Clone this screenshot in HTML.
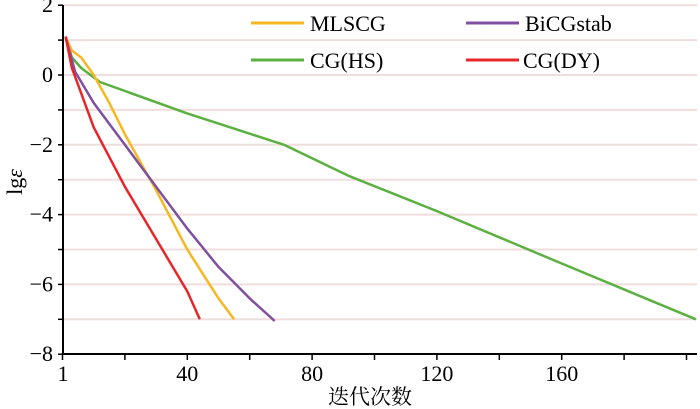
<!DOCTYPE html>
<html><head><meta charset="utf-8"><style>
body{margin:0;background:#fff}
svg{display:block;font-family:"Liberation Serif","Noto Serif CJK SC",serif}
</style></head><body>
<svg id="chart" width="700" height="409" viewBox="0 0 700 409" xmlns="http://www.w3.org/2000/svg">
<g id="grid"></g>
<g id="series"></g>
<g id="axes"></g>
<text transform="translate(22,182) rotate(-90)" text-anchor="middle" font-size="22">lg<tspan font-style="italic">ε</tspan></text>
<text x="370" y="404" text-anchor="middle" font-size="21">迭代次数</text>
<g font-size="22">
<line x1="251" y1="23" x2="304" y2="23" stroke="#f6b822" stroke-width="3"/>
<text x="310" y="31">MLSCG</text>
<line x1="466" y1="23" x2="519" y2="23" stroke="#8050a0" stroke-width="3"/>
<text x="525" y="31">BiCGstab</text>
<line x1="251" y1="60" x2="304" y2="60" stroke="#5ab040" stroke-width="3"/>
<text x="310" y="68">CG(HS)</text>
<line x1="466" y1="60" x2="519" y2="60" stroke="#e8262a" stroke-width="3"/>
<text x="523" y="68">CG(DY)</text>
</g>
</svg>
<script>
const mlscgX=[1,3,6,10,15,20,25,30,40,50,55];
const mlscgY=[1.1,0.7,0.5,0,-0.8,-1.7,-2.5,-3.3,-5,-6.4,-7];
const bicgX=[1,4,10,20,30,40,50,60,68];
const bicgY=[1.1,0.1,-0.8,-2,-3.2,-4.4,-5.5,-6.4,-7.05];
const cghsX=[1,3,6,12,40,71,92,120,160,203];
const cghsY=[1.1,0.5,0.2,-0.2,-1.1,-2,-2.9,-3.9,-5.4,-7];
const cgdyX=[1,3,10,20,30,40,44];
const cgdyY=[1.1,0.2,-1.5,-3.2,-4.7,-6.2,-7];
const yTicks=[2,0,-2,-4,-6,-8];
const yTickLabels=["2","0","\u22122","\u22124","\u22126","\u22128"];
const xTicks=[1,40,80,120,160];
const xTickLabels=["1","40","80","120","160"];
const NS="http://www.w3.org/2000/svg";
const X=v=>62.5+3.12*v;
const Y=v=>75-34.9*v;
function mk(tag,attrs,parent){const e=document.createElementNS(NS,tag);for(const k in attrs)e.setAttribute(k,attrs[k]);parent.appendChild(e);return e;}
const grid=document.getElementById('grid'),axes=document.getElementById('axes'),ser=document.getElementById('series');
for(let v=2;v>-8;v--){const l=mk('line',{x1:63,x2:697,y1:Y(v),y2:Y(v),stroke:'#f0dede','stroke-width':2},grid);

}
for(let v=2;v>=-8;v--){const t=mk('line',{x1:58,x2:63,y1:Y(v),y2:Y(v),stroke:'#000','stroke-width':1.5},axes);

}
for(let v=0;v<=200;v+=20){const t=mk('line',{x1:X(v),x2:X(v),y1:354,y2:360,stroke:'#000','stroke-width':1.5},axes);

}
const ax=mk('path',{d:'M63 5 V354 H697',fill:'none',stroke:'#000','stroke-width':2},axes);


yTicks.forEach((v,i)=>{const t=mk('text',{x:53,y:Y(v)+7,'text-anchor':'end','font-size':22},axes);t.textContent=yTickLabels[i];

});
xTicks.forEach((v,i)=>{const t=mk('text',{x:v===1?63:X(v),y:381,'text-anchor':'middle','font-size':22},axes);t.textContent=xTickLabels[i];

});
function line(xs,ys,color,name){const d=xs.map((x,i)=>(i?'L':'M')+X(x).toFixed(1)+' '+Y(ys[i]).toFixed(1)).join(' ');
const p=mk('path',{d:d,fill:'none',stroke:color,'stroke-width':2.5,'stroke-linejoin':'round'},ser);

}
line(cghsX,cghsY,'#5ab040','series-cghs');
line(mlscgX,mlscgY,'#f6b822','series-mlscg');
line(bicgX,bicgY,'#8050a0','series-bicgstab');
line(cgdyX,cgdyY,'#e8262a','series-cgdy');
</script>
</body></html>
